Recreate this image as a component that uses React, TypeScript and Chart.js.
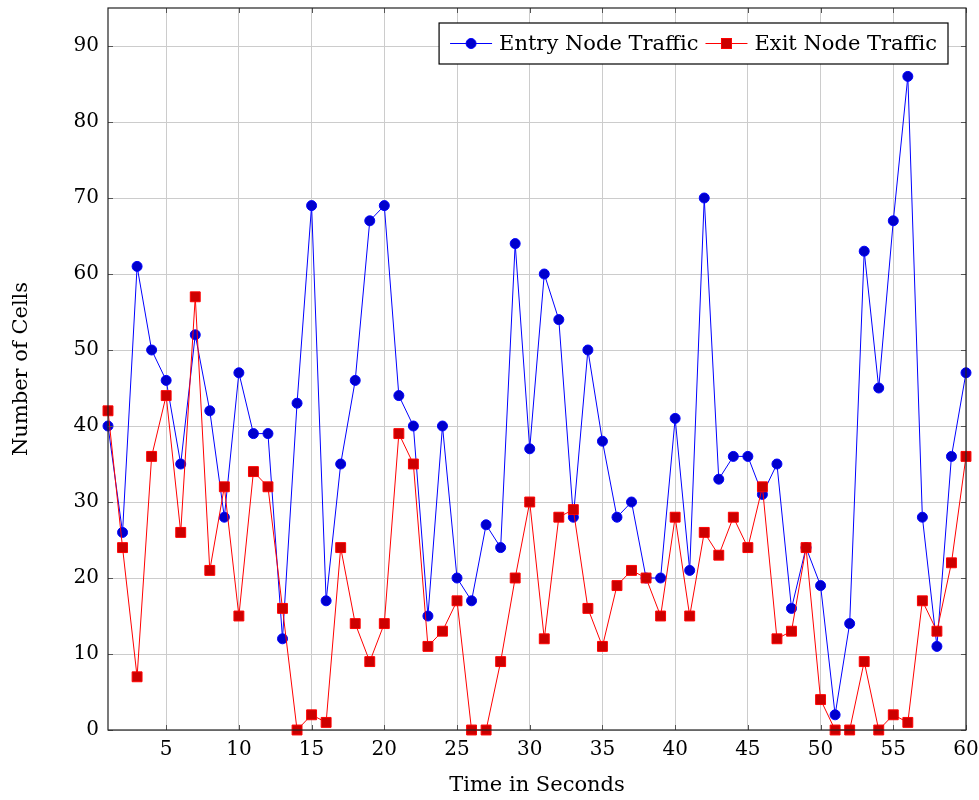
import React, { useEffect, useRef } from "react";
import { Chart, registerables } from "chart.js";
Chart.register(...registerables);

const seconds: number[] = Array.from({ length: 60 }, (_, i) => i + 1);
const entryTraffic: number[] = [
  40, 26, 61, 50, 46, 35, 52, 42, 28, 47, 39, 39, 12, 43, 69, 17, 35, 46, 67, 69,
  44, 40, 15, 40, 20, 17, 27, 24, 64, 37, 60, 54, 28, 50, 38, 28, 30, 20, 20, 41,
  21, 70, 33, 36, 36, 31, 35, 16, 24, 19, 2, 14, 63, 45, 67, 86, 28, 11, 36, 47,
];
const exitTraffic: number[] = [
  42, 24, 7, 36, 44, 26, 57, 21, 32, 15, 34, 32, 16, 0, 2, 1, 24, 14, 9, 14,
  39, 35, 11, 13, 17, 0, 0, 9, 20, 30, 12, 28, 29, 16, 11, 19, 21, 20, 15, 28,
  15, 26, 23, 28, 24, 32, 12, 13, 24, 4, 0, 0, 9, 0, 2, 1, 17, 13, 22, 36,
];
const xTicks: number[] = [5, 10, 15, 20, 25, 30, 35, 40, 45, 50, 55, 60];
const yTicks: number[] = [0, 10, 20, 30, 40, 50, 60, 70, 80, 90];
const seriesNames: string[] = ["Entry Node Traffic", "Exit Node Traffic"];
const xTitle = "Time in Seconds";
const yTitle = "Number of Cells";

const FONT = "'DejaVu Serif', serif";
const FS = 20;
const FS_TEXT = 21;

const BLUE_LINE = "#0000ff";
const BLUE_FILL = "#0000cc";
const RED_LINE = "#ff0000";
const RED_FILL = "#cc0000";

const decor = {
  id: "decor",
  afterDraw(chart: any) {
    const { ctx, chartArea: a, scales } = chart;
    const xs = scales.x;
    const ys = scales.y;
    ctx.save();
    ctx.strokeStyle = "#555";
    ctx.lineWidth = 1;
    const tl = 5;
    ctx.beginPath();
    for (const t of xTicks) {
      const px = Math.round(xs.getPixelForValue(t)) + 0.5;
      ctx.moveTo(px, a.bottom);
      ctx.lineTo(px, a.bottom - tl);
      ctx.moveTo(px, a.top);
      ctx.lineTo(px, a.top + tl);
    }
    for (const t of yTicks) {
      const py = Math.round(ys.getPixelForValue(t)) + 0.5;
      ctx.moveTo(a.left, py);
      ctx.lineTo(a.left + tl, py);
      ctx.moveTo(a.right, py);
      ctx.lineTo(a.right - tl, py);
    }
    ctx.stroke();
    ctx.strokeStyle = "#222";
    ctx.lineWidth = 1.2;
    ctx.strokeRect(a.left, a.top, a.right - a.left, a.bottom - a.top);

    ctx.fillStyle = "#000";
    ctx.font = `${FS_TEXT}px ${FONT}`;
    ctx.textAlign = "center";
    ctx.textBaseline = "middle";
    ctx.fillText(xTitle, (a.left + a.right) / 2, 786);
    ctx.save();
    ctx.translate(22, (a.top + a.bottom) / 2);
    ctx.rotate(-Math.PI / 2);
    ctx.fillText(yTitle, 0, 0);
    ctx.restore();

    const boxRight = a.right - 18;
    const boxTop = 23;
    const boxH = 41;
    const lineLen = 42;
    const gap = 7;
    const w0 = ctx.measureText(seriesNames[0]).width;
    const w1 = ctx.measureText(seriesNames[1]).width;
    const pad = 11;
    const boxW = pad + lineLen + gap + w0 + gap + lineLen + gap + w1 + pad;
    const boxLeft = boxRight - boxW;
    ctx.fillStyle = "#fff";
    ctx.fillRect(boxLeft, boxTop, boxW, boxH);
    ctx.strokeStyle = "#000";
    ctx.lineWidth = 1.2;
    ctx.strokeRect(boxLeft, boxTop, boxW, boxH);
    const cy = boxTop + boxH / 2;
    let x = boxLeft + pad;
    ctx.strokeStyle = BLUE_LINE;
    ctx.lineWidth = 1;
    ctx.beginPath();
    ctx.moveTo(x, cy);
    ctx.lineTo(x + lineLen, cy);
    ctx.stroke();
    ctx.fillStyle = BLUE_FILL;
    ctx.beginPath();
    ctx.arc(x + lineLen / 2, cy, 5, 0, Math.PI * 2);
    ctx.fill();
    ctx.strokeStyle = BLUE_LINE;
    ctx.stroke();
    x += lineLen + gap;
    ctx.fillStyle = "#000";
    ctx.textAlign = "left";
    ctx.fillText(seriesNames[0], x, cy + 1);
    x += w0 + gap;
    ctx.strokeStyle = RED_LINE;
    ctx.beginPath();
    ctx.moveTo(x, cy);
    ctx.lineTo(x + lineLen, cy);
    ctx.stroke();
    ctx.fillStyle = RED_FILL;
    ctx.fillRect(x + lineLen / 2 - 5, cy - 5, 10, 10);
    ctx.strokeRect(x + lineLen / 2 - 5, cy - 5, 10, 10);
    x += lineLen + gap;
    ctx.fillStyle = "#000";
    ctx.fillText(seriesNames[1], x, cy + 1);
    ctx.restore();
  },
};

const zeroPad = (s: any) => {
  s.paddingTop = 0;
  s.paddingBottom = 0;
  s.paddingLeft = 0;
  s.paddingRight = 0;
};

export default function App() {
  const ref = useRef<HTMLCanvasElement | null>(null);
  useEffect(() => {
    if (!ref.current) return;
    const chart = new Chart(ref.current, {
      type: "line",
      data: {
        labels: seconds,
        datasets: [
          {
            label: seriesNames[0],
            data: seconds.map((s, i) => ({ x: s, y: entryTraffic[i] })),
            borderColor: BLUE_LINE,
            backgroundColor: BLUE_FILL,
            pointBackgroundColor: BLUE_FILL,
            pointBorderColor: BLUE_LINE,
            borderWidth: 1,
            pointRadius: 5,
            pointBorderWidth: 1,
            pointStyle: "circle",
            tension: 0,
            clip: false,
            order: 1,
          },
          {
            label: seriesNames[1],
            data: seconds.map((s, i) => ({ x: s, y: exitTraffic[i] })),
            borderColor: RED_LINE,
            backgroundColor: RED_FILL,
            pointBackgroundColor: RED_FILL,
            pointBorderColor: RED_LINE,
            borderWidth: 1,
            pointRadius: 7,
            pointBorderWidth: 1,
            pointStyle: "rect",
            tension: 0,
            clip: false,
            order: 0,
          },
        ],
      },
      options: {
        animation: false,
        responsive: false,
        devicePixelRatio: 1,
        layout: { padding: { top: 8, right: 13, left: 0, bottom: 0 } },
        plugins: { legend: { display: false }, tooltip: { enabled: false } },
        scales: {
          x: {
            type: "linear",
            min: 1,
            max: 60,
            afterBuildTicks: (s: any) => {
              s.ticks = xTicks.map((v) => ({ value: v }));
            },
            afterFit: (s: any) => {
              s.height = 70;
              zeroPad(s);
            },
            grid: { color: "#cccccc", lineWidth: 1, drawTicks: false },
            border: { display: false },
            ticks: {
              padding: 8,
              color: "#000",
              font: { family: FONT, size: FS },
              maxRotation: 0,
              autoSkip: false,
            },
          },
          y: {
            type: "linear",
            min: 0,
            max: 95,
            afterBuildTicks: (s: any) => {
              s.ticks = yTicks.map((v) => ({ value: v }));
            },
            afterFit: (s: any) => {
              s.width = 108;
              zeroPad(s);
            },
            grid: { color: "#cccccc", lineWidth: 1, drawTicks: false },
            border: { display: false },
            ticks: {
              padding: 9,
              color: "#000",
              font: { family: FONT, size: FS },
              autoSkip: false,
            },
          },
        },
      },
      plugins: [decor],
    });
    return () => chart.destroy();
  }, []);
  return (
    <div style={{ position: "absolute", left: 0, top: 0, width: 979, height: 800, background: "#fff" }}>
      <canvas ref={ref} width={979} height={800} style={{ width: 979, height: 800 }} />
    </div>
  );
}
